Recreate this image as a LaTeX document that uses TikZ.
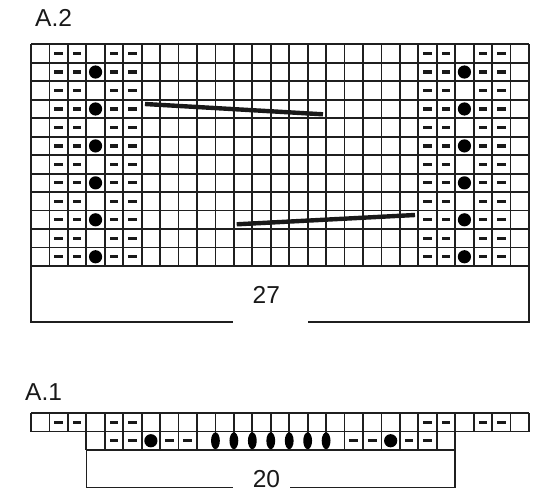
\documentclass[tikz,border=0pt]{standalone}
\usepackage{fontspec}
\setmainfont{Liberation Sans}
\begin{document}
\begin{tikzpicture}[x=1pt,y=-1pt,
  gridline/.style={draw=black!88,line width=1.8pt},
  bracketline/.style={draw=black!88,line width=1.6pt},
  cableline/.style={draw=black!90,line width=4.4pt},
  dashsym/.style={fill=black!90},
  dotsym/.style={fill=black},
  lbl/.style={inner sep=0pt,font=\fontsize{24.5}{28}\selectfont,text=black!90}]
\useasboundingbox (0,0) rectangle (550,501);
\def\cellw{18.444}
\def\cellh{18.475}
% ---------- A.2 ----------
\node[lbl,anchor=base west] (titleA2) at (35,26.7) {A.2};
\foreach \i in {0,...,27}
  \draw[gridline] (31+\i*\cellw,44.3) -- (31+\i*\cellw,266);
\foreach \j in {0,...,12}
  \draw[gridline] (31,44.3+\j*\cellh) -- (529,44.3+\j*\cellh);
\foreach \r in {1,...,12}{
  \foreach \c in {2,3,5,6,22,23,25,26}
    \fill[dashsym] (31+\c*\cellw-0.5*\cellw-4.3,44.3+\r*\cellh-0.5*\cellh-1.6)
      rectangle ++(8.6,3.2);
}
\foreach \r in {2,4,...,12}{
  \foreach \c in {4,24}
    \fill[dotsym] (31+\c*\cellw-0.5*\cellw,44.3+\r*\cellh-0.5*\cellh) circle (6.6);
}
\coordinate (ca1) at (145,104);
\coordinate (ca2) at (323,114.3);
\coordinate (cb1) at (236.7,224.3);
\coordinate (cb2) at (415,215);
\draw[cableline] (ca1) -- (ca2);
\draw[cableline] (cb1) -- (cb2);
\coordinate (bA) at (31,266);
\coordinate (bB) at (31,321.7);
\coordinate (bC) at (233.3,321.7);
\coordinate (bD) at (308.3,321.7);
\coordinate (bE) at (529,321.7);
\coordinate (bF) at (529,266);
\draw[bracketline] (bA) -- (bB) -- (bC);
\draw[bracketline] (bD) -- (bE) -- (bF);
\node[lbl,anchor=base] (num27) at (266.3,303.3) {27};
% ---------- A.1 ----------
\node[lbl,anchor=base west] (titleA1) at (25,400) {A.1};
% top row
\foreach \i in {0,...,27}
  \draw[gridline] (31+\i*\cellw,413) -- (31+\i*\cellw,431.5);
\draw[gridline] (31,413) -- (529,413);
\draw[gridline] (31,431.5) -- (529,431.5);
\foreach \c in {2,3,5,6,22,23,25,26}
  \fill[dashsym] (31+\c*\cellw-0.5*\cellw-4.3,422.25-1.6) rectangle ++(8.6,3.2);
% second row
\foreach \i in {3,...,23}
  \draw[gridline] (31+\i*\cellw,431.5) -- (31+\i*\cellw,450);
\draw[gridline] (31+3*\cellw,450) -- (31+23*\cellw,450);
\foreach \c in {5,6,8,9,18,19,21,22}
  \fill[dashsym] (31+\c*\cellw-0.5*\cellw-4.3,440.75-1.6) rectangle ++(8.6,3.2);
\foreach \c in {7,20}
  \fill[dotsym] (31+\c*\cellw-0.5*\cellw,440.75) circle (6.6);
\foreach \k in {10,...,16}
  \fill[dotsym] (31+\k*\cellw,440.75) ellipse (4.4 and 8.4);
\coordinate (dA) at (86.33,450);
\coordinate (dB) at (86.33,487.3);
\coordinate (dC) at (233,487.3);
\coordinate (dD) at (290,487.3);
\coordinate (dE) at (455.2,487.3);
\coordinate (dF) at (455.2,450);
\draw[bracketline] (dA) -- (dB) -- (dC);
\draw[bracketline] (dD) -- (dE) -- (dF);
\node[lbl,anchor=base] (num20) at (266.5,487.3) {20};
\end{tikzpicture}
\end{document}
